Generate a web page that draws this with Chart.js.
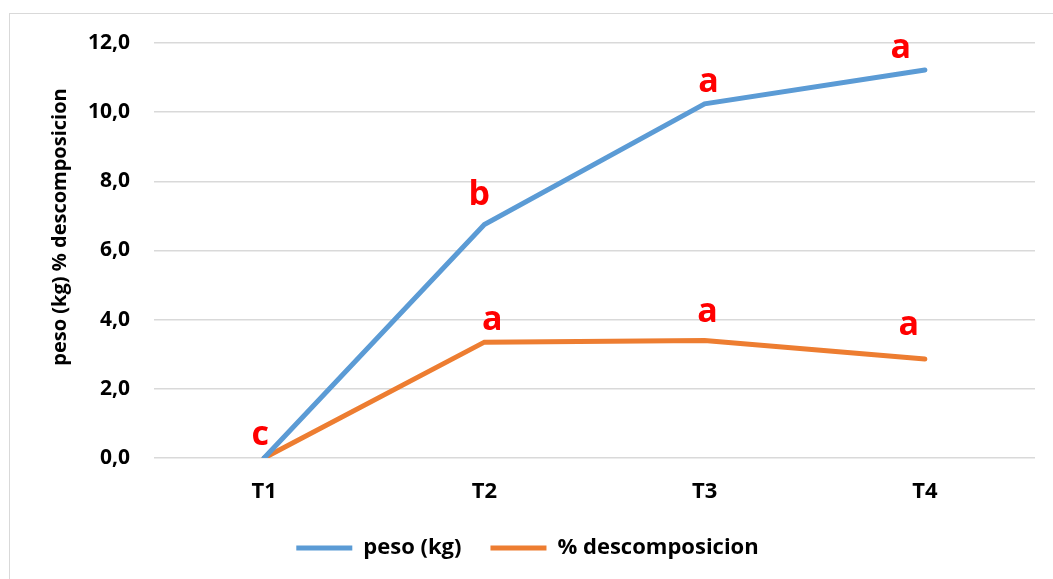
<!DOCTYPE html>
<html>
<head>
<meta charset="utf-8">
<script src="https://cdn.jsdelivr.net/npm/chart.js@4.4.1/dist/chart.umd.min.js"></script>
<style>
    html, body { margin: 0; padding: 0; background: #fff; }
    #wrap { position: relative; width: 1053px; height: 579px; }
    #frame { position: absolute; left: 9px; top: 13px; right: 0; bottom: 0;
             border-left: 1px solid #d9d9d9; border-top: 1px solid #d9d9d9; }
    canvas { position: absolute; left: 0; top: 0; }
</style>
</head>
<body>
<div id="wrap">
    <div id="frame"></div>
    <canvas id="lineChart" width="1053" height="579"></canvas>
</div>
<script>
// data
const categories = ['T1', 'T2', 'T3', 'T4'];
const pesoKg = [0, 6.75, 10.24, 11.22];
const descomposicion = [0, 3.35, 3.40, 2.86];
const pesoLetters = ['c', 'b', 'a', 'a'];
const descLetters = ['', 'a', 'a', 'a'];
const yTicks = [0, 2, 4, 6, 8, 10, 12];
const yTitle = 'peso (kg) % descomposicion';

// where each letter sits relative to its point (dx, baseline dy)
const pesoNudge = [[-4, -13], [-5, -20], [4, -12], [-24, -12]];
const descNudge = [[0, 0], [8, -12], [3, -18], [-16, -24]];

const FONT = '"Open Sans", "Noto Sans", sans-serif';

const letterPlugin = {
    id: 'letters',
    afterDatasetsDraw(chart) {
        const ctx = chart.ctx;
        ctx.save();
        ctx.font = 'bold 34px ' + FONT;
        ctx.fillStyle = '#ff0000';
        ctx.textAlign = 'center';
        ctx.textBaseline = 'alphabetic';
        const sets = [[pesoLetters, pesoNudge], [descLetters, descNudge]];
        sets.forEach(([letters, nudge], di) => {
            const meta = chart.getDatasetMeta(di);
            meta.data.forEach((pt, i) => {
                if (!letters[i]) return;
                ctx.fillText(letters[i], pt.x + nudge[i][0], pt.y + nudge[i][1]);
            });
        });
        ctx.restore();
    }
};

// rotated axis title, sits a bit above the middle like the original
const yTitlePlugin = {
    id: 'yTitle',
    afterDraw(chart) {
        const ctx = chart.ctx;
        ctx.save();
        ctx.translate(60, 227);
        ctx.rotate(-Math.PI / 2);
        ctx.font = 'bold 20px ' + FONT;
        ctx.fillStyle = '#000';
        ctx.textAlign = 'center';
        ctx.textBaseline = 'middle';
        ctx.fillText(yTitle, 0, 0);
        ctx.restore();
    }
};

new Chart(document.getElementById('lineChart'), {
    type: 'line',
    data: {
        labels: categories,
        datasets: [{
            label: 'peso (kg)',
            data: pesoKg,
            borderColor: '#5b9bd5',
            backgroundColor: '#5b9bd5',
            borderWidth: 5,
            borderCapStyle: 'round',
            pointRadius: 0,
            tension: 0
        }, {
            label: '% descomposicion',
            data: descomposicion,
            borderColor: '#ed7d31',
            backgroundColor: '#ed7d31',
            borderWidth: 5,
            borderCapStyle: 'round',
            pointRadius: 0,
            tension: 0
        }]
    },
    options: {
        responsive: false,
        animation: false,
        layout: { padding: { left: 20, right: 18, top: 43, bottom: 10 } },
        plugins: {
            tooltip: { enabled: false },
            legend: {
                position: 'bottom',
                labels: {
                    color: '#000',
                    font: { family: FONT, size: 22, weight: 'bold' },
                    boxWidth: 56,
                    boxHeight: 0,
                    padding: 29,
                    generateLabels(chart) {
                        return chart.data.datasets.map((ds, i) => ({
                            text: ds.label,
                            fillStyle: ds.borderColor,
                            strokeStyle: ds.borderColor,
                            lineWidth: 5,
                            lineCap: 'round',
                            datasetIndex: i
                        }));
                    }
                }
            }
        },
        scales: {
            x: {
                offset: true,
                grid: { display: false, drawTicks: false },
                border: { display: false },
                ticks: {
                    color: '#000',
                    padding: 21,
                    font: { family: FONT, size: 22, weight: 'bold' }
                },
                afterFit(scale) { scale.height = 50; }
            },
            y: {
                min: 0,
                max: 12,
                afterBuildTicks(scale) { scale.ticks = yTicks.map(v => ({ value: v })); },
                grid: { color: '#d9d9d9', lineWidth: 1.5, drawTicks: false },
                border: { display: false },
                ticks: {
                    color: '#000',
                    padding: 24,
                    font: { family: FONT, size: 21, weight: 'bold' },
                    callback: v => v.toFixed(1).replace('.', ',')
                },
                afterFit(scale) { scale.width = 134; }
            }
        }
    },
    plugins: [letterPlugin, yTitlePlugin]
});
</script>
</body>
</html>
